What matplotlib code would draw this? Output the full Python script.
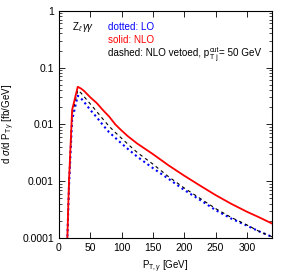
import matplotlib
matplotlib.use("Agg")
import matplotlib.pyplot as plt
from matplotlib.transforms import IdentityTransform
from matplotlib.ticker import FixedLocator, FixedFormatter, LogLocator, NullFormatter

plt.rcParams['font.family'] = ['Liberation Sans', 'DejaVu Sans']
plt.rcParams['mathtext.fontset'] = 'custom'
plt.rcParams['mathtext.rm'] = 'Liberation Sans'
plt.rcParams['mathtext.it'] = 'Liberation Sans:italic'

# pT of photon [GeV] and cross sections [fb/GeV]
pt = [13, 16, 21, 30, 35, 40, 50, 60, 70, 80, 90, 100, 110, 125, 150, 175,
      200, 225, 250, 275, 300, 320, 340]
nlo = [7e-5, 1e-3, 0.018, 0.046, 0.043, 0.039, 0.030, 0.024, 0.018, 0.0138,
       0.0100, 0.0078, 0.0062, 0.0046, 0.0030, 0.0019, 0.00125, 0.00084,
       0.00057, 0.00040, 0.00029, 0.00023, 0.00018]
lo = [7e-5, 8e-4, 0.012, 0.032, 0.029, 0.025, 0.018, 0.0135, 0.0098, 0.0073,
      0.0058, 0.0046, 0.0037, 0.0027, 0.0017, 0.0011, 0.00070, 0.00047,
      0.00031, 0.00022, 0.000165, 0.00013, 0.000105]
veto = [7e-5, 9e-4, 0.015, 0.040, 0.036, 0.031, 0.023, 0.017, 0.0125, 0.0093,
        0.0072, 0.0057, 0.0045, 0.0032, 0.0020, 0.0012, 0.00076, 0.00050,
        0.00033, 0.00023, 0.00017, 0.00013, 0.000105]

fig = plt.figure(figsize=(2.89, 2.79), dpi=100)
ax = fig.add_axes([0.204, 0.147, 0.737, 0.814])

ax.plot(pt, lo, color='blue', ls=(0, (1, 1.5)), lw=1.5)
ax.plot(pt, veto, color='black', ls=(0, (3, 3)), lw=0.8)
ax.plot(pt, nlo, color='red', lw=1.3)

ax.set_yscale('log')
ax.set_xlim(0, 340)
ax.set_ylim(1e-4, 1)

ax.xaxis.set_major_locator(FixedLocator([0, 50, 100, 150, 200, 250, 300]))
ax.yaxis.set_major_locator(FixedLocator([1e-4, 1e-3, 1e-2, 0.1, 1]))
ax.yaxis.set_major_formatter(FixedFormatter(['0.0001', '0.001', '0.01', '0.1', '1']))
ax.yaxis.set_minor_locator(LogLocator(base=10, subs=range(2, 10)))
ax.yaxis.set_minor_formatter(NullFormatter())
ax.tick_params(which='both', direction='in', top=True, right=True, labelsize=7.5)
ax.tick_params(which='major', length=4, width=0.6)
ax.tick_params(which='minor', length=2, width=0.5)
for s in ax.spines.values():
    s.set_linewidth(0.8)

ax.set_xlabel(r'P$_{\mathrm{T},\gamma}$ [GeV]', fontsize=7, labelpad=4)
ax.set_ylabel(r'd $\sigma$/d P$_{\mathrm{T}\,\gamma}$ [fb/GeV]', fontsize=7, labelpad=4)

fs = 7.1
ax.text(0.06, 0.914, r'Z$_\ell\,\gamma\gamma$', transform=ax.transAxes, fontsize=fs, va='baseline')
ax.text(0.23, 0.914, 'dotted: LO', color='blue', transform=ax.transAxes, fontsize=fs, va='baseline')
ax.text(0.23, 0.857, 'solid: NLO', color='red', transform=ax.transAxes, fontsize=fs, va='baseline')

# dashed line label, built from pieces so sub/superscript stay small
t1 = ax.text(0.23, 0.80, 'dashed: NLO vetoed, p', transform=ax.transAxes, fontsize=fs, va='baseline')
fig.canvas.draw()
bb = t1.get_window_extent()
x0 = bb.x1 + 0.5
ybase = ax.transAxes.transform((0, 0.80))[1]
sub = fig.text(x0, ybase - 2.5, 'T j', fontsize=5, va='baseline', transform=IdentityTransform())
sup = fig.text(x0, ybase + 4.5, 'cut', fontsize=5, va='baseline', transform=IdentityTransform())
fig.canvas.draw()
x1 = max(sub.get_window_extent().x1, sup.get_window_extent().x1)
fig.text(x1, ybase, '= 50 GeV', fontsize=fs, va='baseline', transform=IdentityTransform())

fig.savefig('out.png', dpi=100)
